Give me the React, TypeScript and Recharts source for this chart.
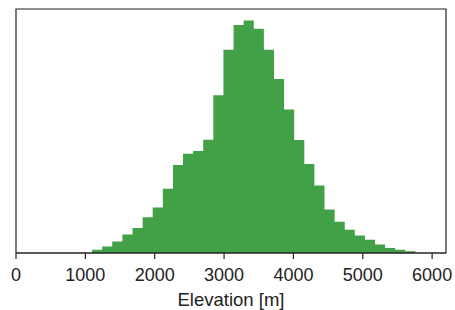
import React from "react";
import { AreaChart, Area, XAxis, YAxis, ReferenceArea, Label } from "recharts";

// Histogram bin left edges (m), plus the final right edge
const binEdges: number[] = [
  1097, 1243, 1388, 1534, 1680, 1826, 1971, 2117, 2263, 2408, 2554, 2700,
  2845, 2991, 3137, 3283, 3428, 3574, 3720, 3865, 4011, 4157, 4302, 4448,
  4594, 4740, 4885, 5031, 5177, 5322, 5468, 5614, 5759,
];

// Counts per bin (32 bins)
const binCounts: number[] = [
  14, 28, 49, 80, 108, 154, 196, 276, 379, 427, 439, 487, 679, 875, 981, 1000,
  965, 875, 749, 618, 486, 383, 290, 187, 135, 100, 75, 57, 37, 22, 14, 8,
];

const xTicks: number[] = [0, 1000, 2000, 3000, 4000, 5000, 6000];
const xMax = 6200;
const yMax = 1050;

const data = binEdges.map((edge, i) => ({
  x: edge,
  count: binCounts[Math.min(i, binCounts.length - 1)],
}));

const FONT = "'Liberation Sans', Arial, sans-serif";
const INK = "#222222";

export default function App() {
  return (
    <div style={{ position: "absolute", left: 0, top: 0, width: 455, height: 310, background: "#fff" }}>
      <AreaChart
        width={455}
        height={310}
        data={data}
        margin={{ top: 9, right: 9, left: 16, bottom: 0 }}
      >
        <XAxis
          dataKey="x"
          type="number"
          domain={[0, xMax]}
          ticks={xTicks}
          allowDataOverflow
          height={57}
          axisLine={{ stroke: INK, strokeWidth: 1.2 }}
          tickLine={{ stroke: INK, strokeWidth: 1.2 }}
          tickSize={6}
          tickMargin={9}
          tick={{ fill: INK, fontSize: 18, fontFamily: FONT }}
        >
          <Label
            value="Elevation [m]"
            position="insideBottom"
            offset={4}
            style={{ fill: INK, fontSize: 18.5, fontFamily: FONT }}
          />
        </XAxis>
        <YAxis hide domain={[0, yMax]} type="number" allowDataOverflow />
        <Area
          type="stepAfter"
          dataKey="count"
          stroke="none"
          fill="#42a046"
          fillOpacity={1}
          isAnimationActive={false}
          dot={false}
          activeDot={false}
        />
        <ReferenceArea
          x1={0}
          x2={xMax}
          y1={0}
          y2={yMax}
          fill="none"
          stroke={INK}
          strokeWidth={1.2}
          ifOverflow="visible"
        />
      </AreaChart>
    </div>
  );
}
